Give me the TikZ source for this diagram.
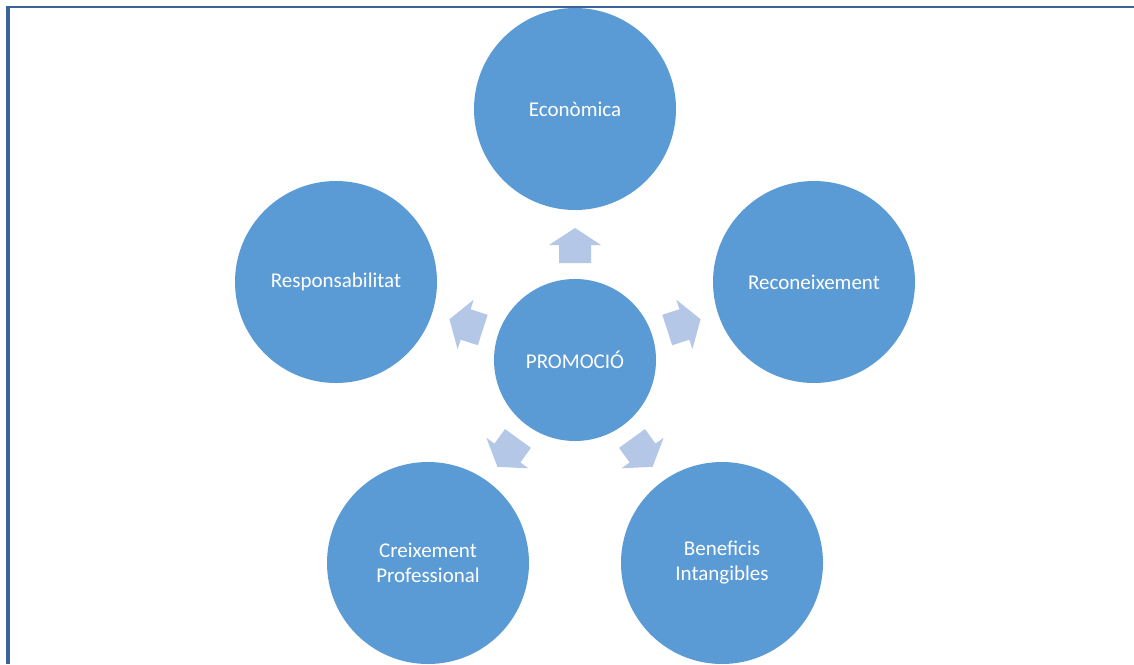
\documentclass[tikz,border=0pt]{standalone}
\usepackage{fontspec}
\setmainfont{Carlito}
\begin{document}
\definecolor{bubble}{HTML}{5B9BD5}
\definecolor{pointer}{HTML}{B4C7E7}
\definecolor{frameblue}{HTML}{3A6598}
\begin{tikzpicture}[x=1pt,y=-1pt,
  bubble/.style={circle,fill=bubble,draw=none,inner sep=0pt,
    text=white,align=center,font=\fontsize{21}{25}\selectfont},
  hub/.style={bubble,minimum size=162pt},
  leaf/.style={bubble,minimum size=202pt}]
\useasboundingbox (0,0) rectangle (1134,664);
\clip (0,0) rectangle (1134,664);
\fill[white] (0,0) rectangle (1134,664);
% page frame: top rule and left rule
\fill[frameblue] (6,6) rectangle (1134,8);
\fill[frameblue] (6,6) rectangle (10,664);
% hub and the five satellites
\node[hub] (c) at (575,360) {PROMOCIÓ};
\node[leaf] (e1) at (575,109) {Econòmica};
\node[leaf] (e2) at (814,282) {Reconeixement};
\node[leaf] (e3) at (722,563) {Beneficis\\Intangibles};
\node[leaf] (e4) at (428,563) {Creixement\\Professional};
\node[leaf] (e5) at (336,282) {Responsabilitat};
% block arrows pointing outward from the hub
\foreach \ang in {90,18,-54,-126,162}{
  \begin{scope}[shift={(c.center)},rotate=\ang]
    \fill[pointer] (97,-16) -- (115,-16) -- (115,-26) -- (132,0)
      -- (115,26) -- (115,16) -- (97,16) -- cycle;
  \end{scope}
}
\end{tikzpicture}
\end{document}
